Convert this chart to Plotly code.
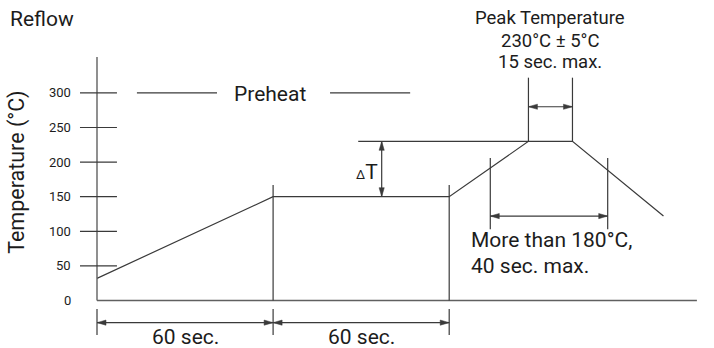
import plotly.graph_objects as go

# Reflow profile: time (s) vs temperature (°C)
profile_t = [0, 60, 120, 147, 162, 193]
profile_T = [32, 150, 150, 230, 230, 122]

y_ticks = [0, 50, 100, 150, 200, 250, 300]
y_tick_labels = ["0", "50", "100", "150", "200", "250", "300"]

stage_edges = [0, 60, 120]          # preheat ramp / soak boundaries (s)
stage_labels = ["60 sec.", "60 sec."]

peak_window = [147, 162]            # 15 s at peak
above180_window = [134, 174]        # 40 s above 180 °C
delta_T_span = [150, 230]           # soak level to peak level
preheat_segments = [[13.6, 40.9], [79.4, 106.7]]

# canvas geometry (pixels per unit, origin position)
PX_S, PX_C = 2.935, 0.692
OX, OY = 97, 300.5
W, H = 714, 348

LINE = "#3a3a3a"
AXIS = "#606060"
TXT = "#1c1c1c"
FONT = "Roboto"

fig = go.Figure()

fig.add_trace(go.Scatter(x=profile_t, y=profile_T, mode="lines",
                         line=dict(color=LINE, width=1.2), hoverinfo="skip"))

shapes = []
annotations = []


def seg(x0, y0, x1, y1, color=LINE, width=1.2):
    shapes.append(dict(type="line", xref="x", yref="y", x0=x0, y0=y0, x1=x1, y1=y1,
                       line=dict(color=color, width=width)))


def head(x, y, direction, color=LINE, length=9, half=2.6):
    # filled triangular arrowhead, sized in pixels, tip at (x, y)
    if direction == "right":
        p = f"M0,0 L{-length},{half} L{-length},{-half} Z"
    elif direction == "left":
        p = f"M0,0 L{length},{half} L{length},{-half} Z"
    elif direction == "up":
        p = f"M0,0 L{half},{-length} L{-half},{-length} Z"
    else:
        p = f"M0,0 L{half},{length} L{-half},{length} Z"
    shapes.append(dict(type="path", xref="x", yref="y", xsizemode="pixel", ysizemode="pixel",
                       xanchor=x, yanchor=y, path=p, fillcolor=color,
                       line=dict(color=color, width=0.5)))


def harrow(x0, x1, y):
    seg(x0, y, x1, y)
    head(x0, y, "left")
    head(x1, y, "right")


def varrow(x, y0, y1):
    seg(x, y0, x, y1)
    head(x, y0, "down")
    head(x, y1, "up")


def text(x, y, s, size=21, xanchor="center", **kw):
    annotations.append(dict(x=x, y=y, xref="x", yref="y", text=s, showarrow=False,
                            xanchor=xanchor, yanchor="middle",
                            font=dict(family=FONT, size=size, color=TXT), **kw))


# axes
seg(0, 0, 0, 352, AXIS, 1.4)
seg(0, 0, 204.4, 0, AXIS, 1.6)
for v, lab in zip(y_ticks, y_tick_labels):
    if v > 0:
        seg(-5.8, v, 6.8, v, LINE, 1.2)
    text(-8.3, v, lab, size=13, xanchor="right")

# preheat stage markers
for a, b in preheat_segments:
    seg(a, 300, b, 300, LINE, 1.1)
text(59, 298, "Preheat", 21)
for e in stage_edges[1:]:
    seg(e, 0, e, 167)
for e in stage_edges:
    seg(e, -12.3, e, -49.9)
for i, lab in enumerate(stage_labels):
    harrow(stage_edges[i], stage_edges[i + 1], -32)
    text((stage_edges[i] + stage_edges[i + 1]) / 2, -52.7, lab, 21)

# delta T
seg(89, delta_T_span[1], peak_window[0], delta_T_span[1])
varrow(97, delta_T_span[0], delta_T_span[1])
text(92, 185.7, "<span style='font-size:13px'>Δ</span>T", 21)

# peak window
for p in peak_window:
    seg(p, delta_T_span[1], p, 322)
harrow(peak_window[0], peak_window[1], 280)
peak_lines = ["Peak Temperature", "230°C ± 5°C", "15 sec. max."]
for lab, yy in zip(peak_lines, [408.2, 375.3, 344.5]):
    text(sum(peak_window) / 2, yy, lab, 18.5)

# time above 180 °C
for p in above180_window:
    seg(p, 103, p, 206)
harrow(above180_window[0], above180_window[1], 122)
text(126.8, 87.9, "More than 180°C,", 21, xanchor="left")
text(126.8, 49.4, "40 sec. max.", 21, xanchor="left")

# titles
text(-30.3, 407.5, "Reflow", 21, xanchor="left")
text(-27.3, 185.7, "Temperature (°C)", 21.5, textangle=-90)

fig.update_layout(
    width=W, height=H, margin=dict(l=0, r=0, t=0, b=0),
    paper_bgcolor="white", plot_bgcolor="white", showlegend=False,
    xaxis=dict(range=[-OX / PX_S, (W - OX) / PX_S], visible=False, fixedrange=True),
    yaxis=dict(range=[(OY - H) / PX_C, OY / PX_C], visible=False, fixedrange=True),
    shapes=shapes, annotations=annotations,
)

fig.write_html("out.html")
